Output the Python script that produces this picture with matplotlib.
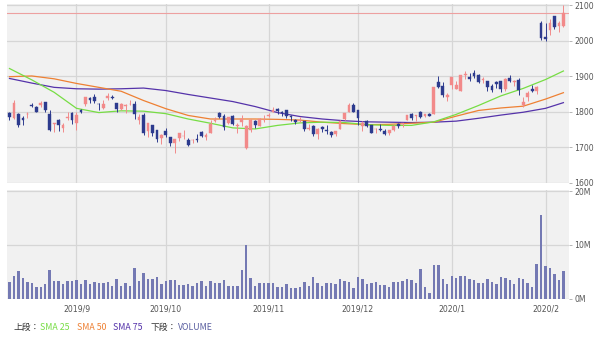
import numpy as np
import pandas as pd
import matplotlib
matplotlib.use("Agg")
import matplotlib.pyplot as plt

# Trading calendar (US market days)
holidays = ["2019-09-02", "2019-11-28", "2019-12-25", "2020-01-01", "2020-01-20"]
dates = pd.bdate_range("2019-08-12", "2020-02-07", freq="C", holidays=holidays)

opens = [
    1796, 1783, 1793, 1782, 1793, 1818, 1814, 1819, 1828, 1793, 1767, 1776, 1755, 1783, 1797,
    1770, 1805, 1822, 1838, 1841, 1823, 1812, 1838, 1842, 1824, 1807, 1817, 1822, 1821, 1777,
    1791, 1747, 1763, 1748, 1727,
    1746, 1728, 1713, 1726, 1732, 1722, 1720, 1725, 1743, 1729, 1742, 1773, 1796, 1788, 1770,
    1788, 1761, 1771, 1698, 1748, 1775, 1760, 1776,
    1788, 1801, 1809, 1801, 1804, 1788, 1778, 1775, 1773, 1751, 1760, 1738, 1757, 1749, 1743,
    1739, 1753, 1780, 1801, 1818,
    1804, 1760, 1774, 1764, 1751, 1751, 1747, 1742, 1750, 1765, 1767, 1778, 1795, 1789, 1799,
    1788, 1794, 1794, 1883, 1874, 1842,
    1875, 1865, 1860, 1905, 1898, 1910, 1905, 1891, 1886, 1872, 1883, 1886, 1865, 1896, 1885,
    1891, 1820, 1841, 1864, 1858, 2051,
    2011, 2029, 2071, 2041, 2041,
]
highs = [
    1801, 1833, 1796, 1788, 1800, 1826, 1817, 1830, 1829, 1805, 1770, 1779, 1768, 1799, 1800,
    1801, 1808, 1842, 1841, 1850, 1826, 1833, 1854, 1847, 1826, 1824, 1822, 1833, 1831, 1793,
    1796, 1770, 1763, 1749, 1737,
    1756, 1729, 1725, 1741, 1748, 1727, 1725, 1738, 1745, 1742, 1776, 1786, 1799, 1794, 1786,
    1790, 1770, 1790, 1764, 1779, 1777, 1782, 1792,
    1797, 1815, 1810, 1803, 1806, 1790, 1780, 1786, 1775, 1767, 1762, 1754, 1761, 1763, 1747,
    1746, 1777, 1797, 1825, 1825,
    1806, 1773, 1777, 1764, 1754, 1767, 1751, 1750, 1764, 1769, 1770, 1792, 1798, 1792, 1802,
    1793, 1796, 1869, 1901, 1884, 1853,
    1898, 1886, 1904, 1914, 1910, 1918, 1907, 1898, 1887, 1879, 1886, 1887, 1894, 1903, 1890,
    1895, 1841, 1858, 1875, 1873, 2056,
    2049, 2060, 2071, 2056, 2100,
]
lows = [
    1777, 1780, 1757, 1762, 1784, 1813, 1800, 1815, 1800, 1745, 1744, 1747, 1744, 1777, 1765,
    1748, 1796, 1816, 1826, 1825, 1805, 1809, 1834, 1835, 1800, 1804, 1796, 1818, 1781, 1767,
    1736, 1729, 1732, 1714, 1709,
    1728, 1705, 1685, 1719, 1724, 1705, 1713, 1714, 1730, 1722, 1741, 1771, 1782, 1749, 1765,
    1762, 1742, 1760, 1695, 1743, 1756, 1759, 1771,
    1785, 1801, 1794, 1789, 1783, 1774, 1767, 1772, 1747, 1750, 1733, 1723, 1743, 1738, 1730,
    1731, 1753, 1778, 1801, 1800,
    1763, 1747, 1757, 1740, 1740, 1746, 1735, 1736, 1745, 1755, 1757, 1777, 1776, 1774, 1782,
    1785, 1788, 1794, 1866, 1841, 1832,
    1864, 1864, 1860, 1892, 1886, 1896, 1880, 1881, 1859, 1855, 1866, 1857, 1860, 1883, 1873,
    1847, 1815, 1830, 1855, 1851, 2002,
    2000, 2015, 2032, 2025, 2038,
]
closes = [
    1785, 1824, 1763, 1776, 1793, 1816, 1801, 1824, 1805, 1750, 1769, 1762, 1764, 1786, 1776,
    1790, 1801, 1841, 1834, 1831, 1821, 1823, 1844, 1839, 1808, 1823, 1817, 1822, 1794, 1785,
    1742, 1768, 1740, 1725, 1736,
    1736, 1713, 1724, 1740, 1733, 1706, 1722, 1720, 1732, 1736, 1767, 1777, 1787, 1758, 1786,
    1766, 1762, 1781, 1761, 1777, 1763, 1780, 1777,
    1791, 1805, 1802, 1796, 1788, 1786, 1772, 1778, 1753, 1755, 1739, 1753, 1753, 1746, 1735,
    1746, 1774, 1797, 1819, 1801,
    1782, 1770, 1761, 1740, 1752, 1750, 1739, 1749, 1760, 1761, 1769, 1791, 1784, 1792, 1787,
    1793, 1789, 1869, 1870, 1847, 1848,
    1898, 1875, 1903, 1907, 1892, 1901, 1883, 1891, 1869, 1862, 1878, 1865, 1892, 1887, 1885,
    1862, 1828, 1853, 1858, 1871, 2009,
    2004, 2050, 2040, 2050, 2079,
]
# Daily volume, millions of shares
volumes = [
    3.0, 4.1, 5.1, 3.9, 3.0, 2.8, 2.1, 2.1, 2.7, 5.3, 3.2, 3.2, 2.7, 3.2, 3.2,
    3.5, 2.7, 3.4, 2.7, 3.0, 2.9, 2.9, 3.0, 2.4, 3.7, 2.4, 2.8, 2.4, 5.6, 3.2, 4.7, 3.7, 3.7,
    4.0, 2.7,
    3.2, 3.4, 3.5, 2.6, 2.6, 2.7, 2.4, 2.9, 3.2, 2.3, 3.2, 2.9, 2.8, 3.4, 2.4, 2.4, 2.4, 5.3,
    9.9, 3.8, 2.3, 2.8, 2.9,
    2.9, 2.8, 2.1, 2.1, 2.7, 2.0, 2.0, 2.2, 3.0, 2.3, 4.0, 2.9, 2.3, 2.8, 2.8, 2.7, 3.6, 3.3,
    3.1, 2.0,
    4.0, 3.6, 2.7, 2.9, 3.1, 2.6, 2.6, 2.2, 3.1, 3.0, 3.3, 3.7, 3.5, 2.9, 5.4, 2.2, 1.0, 6.2,
    6.3, 3.7, 2.7,
    4.1, 3.9, 4.1, 4.1, 3.7, 3.4, 2.9, 2.9, 3.6, 3.1, 2.7, 4.0, 3.8, 3.4, 2.7, 3.9, 3.6, 2.9,
    2.2, 6.5, 15.6,
    6.0, 5.6, 4.5, 3.4, 5.1,
]

# Moving averages, one value every fifth session plus the last session
sma_step = 5
sma25 = [1922, 1890, 1855, 1810, 1798, 1803, 1802, 1795, 1780, 1768, 1755, 1752, 1762,
         1769, 1771, 1770, 1764, 1762, 1762, 1772, 1793, 1818, 1845, 1866, 1891, 1915]
sma50 = [1899, 1901, 1893, 1880, 1869, 1858, 1832, 1809, 1790, 1780, 1780, 1780, 1779,
         1777, 1771, 1767, 1764, 1765, 1768, 1771, 1788, 1804, 1811, 1816, 1836, 1854]
sma75 = [1894, 1881, 1869, 1865, 1864, 1865, 1867, 1860, 1849, 1839, 1829, 1815, 1798,
         1787, 1780, 1775, 1772, 1771, 1770, 1771, 1774, 1782, 1791, 1799, 1810, 1826]

price_ticks = [1600, 1700, 1800, 1900, 2000, 2100]
volume_ticks = [0, 10, 20]
volume_tick_labels = ["0M", "10M", "20M"]

UP = "#f28a8a"
DOWN = "#2d3b8e"
GRID = "#d6d6d6"
PANEL = "#f1f1f1"
TICK = "#555555"
C25, C50, C75 = "#77dd44", "#ee8033", "#5533aa"
VOLC = "#7479b3"

o = np.array(opens, float)
h = np.array(highs, float)
l = np.array(lows, float)
c = np.array(closes, float)
v = np.array(volumes, float)
n = len(dates)
x = np.arange(n)

sma_x = list(range(0, n, sma_step))
if sma_x[-1] != n - 1:
    sma_x.append(n - 1)

# First session of every month -> vertical grid + labels
month_start = [i for i in range(1, n) if dates[i].month != dates[i - 1].month]
month_labels = [f"{dates[i].year}/{dates[i].month}" for i in month_start]

W, H = 600, 339
fig = plt.figure(figsize=(W / 100, H / 100), dpi=100)
fig.patch.set_facecolor("white")

left_px, right_px = 6.5, 568.5


def px_axes(top, bottom):
    return fig.add_axes([left_px / W, 1 - bottom / H, (right_px - left_px) / W, (bottom - top) / H])


ax = px_axes(4.5, 183)
axv = px_axes(190, 298.5)

xlim = (-0.67, 125.14)
for a in (ax, axv):
    a.set_facecolor(PANEL)
    a.set_xlim(*xlim)
    for s in a.spines.values():
        s.set_visible(False)
    a.set_xticks(month_start)
    a.grid(True, color=GRID, lw=0.9)
    a.set_axisbelow(True)
    a.yaxis.tick_right()
    a.tick_params(axis="y", length=2.5, width=0.6, color="#aaaaaa", pad=1.5,
                  labelsize=5.6, labelcolor=TICK)
    a.tick_params(axis="x", length=0, labelsize=5.6, labelcolor=TICK, pad=4)

ax.set_xticklabels([])
axv.set_xticklabels(month_labels)

# Price panel
ax.set_ylim(1600, 2102)
ax.set_yticks(price_ticks)
ax.set_yticklabels([str(t) for t in price_ticks])
ax.axhline(c[-1], color="#eda0a0", lw=0.8, zorder=1)

ax.plot(sma_x, sma75, color=C75, lw=0.9, zorder=2)
ax.plot(sma_x, sma50, color=C50, lw=0.9, zorder=2)
ax.plot(sma_x, sma25, color=C25, lw=0.9, zorder=2)

up = c >= o
colors = np.where(up, UP, DOWN)
ax.vlines(x, l, h, colors=colors, lw=0.7, zorder=3)
body_lo = np.minimum(o, c)
body_h = np.maximum(np.abs(c - o), 1.5)
ax.bar(x, body_h, bottom=body_lo, width=0.62, color=colors, edgecolor=colors,
       lw=0.3, zorder=4)

# Volume panel
axv.set_ylim(0, 20.2)
axv.set_yticks(volume_ticks)
axv.set_yticklabels(volume_tick_labels)
axv.bar(x, v, width=0.55, color=VOLC, zorder=3)

# Caption line
cap_font = ["Noto Sans CJK JP", "DejaVu Sans"]
cap_y = 1 - 327 / H
pieces = [
    (13, "上段：", "#333333"),
    (40, "SMA 25", C25),
    (77, "SMA 50", C50),
    (113, "SMA 75", C75),
    (151, "下段：", "#333333"),
    (178, "VOLUME", "#5a5fa0"),
]
for px, txt, col in pieces:
    fig.text(px / W, cap_y, txt, color=col, fontsize=6.3, family=cap_font,
             va="center", ha="left")

fig.savefig("out.png", dpi=100, facecolor="white")
